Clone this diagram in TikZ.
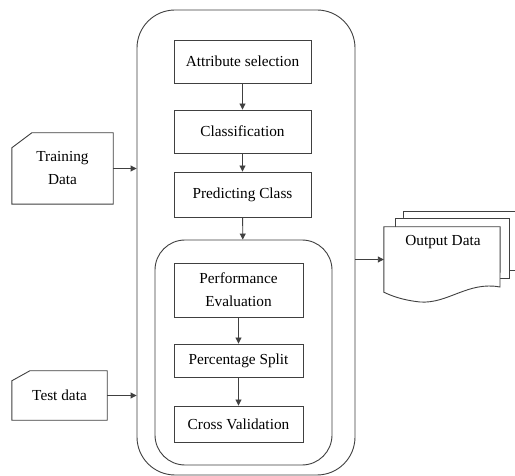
\documentclass[tikz,border=0pt]{standalone}
\usepackage{fontspec}
\setmainfont{Liberation Serif}
\usetikzlibrary{arrows.meta}
\begin{document}
\begin{tikzpicture}[x=1pt,y=-1pt,
  ln/.style={draw=black!75,line width=0.9pt},
  procbox/.style={ln,rectangle,inner sep=1pt,align=center,font=\fontsize{15.3}{23}\selectfont},
  txt/.style={inner sep=0pt,align=center,font=\fontsize{15.3}{23}\selectfont},
  arr/.style={ln,-{Triangle[length=6pt,width=6pt]}},
  frame/.style={ln,rectangle}
]
\clip (0,0) rectangle (515,476);
\fill[white] (0,0) rectangle (515,476);
% outer and inner frames
\node[frame,rounded corners=38pt,minimum width=218,minimum height=465] (outer) at (246,242.5) {};
\node[frame,rounded corners=30pt,minimum width=177,minimum height=225] (inner) at (243.5,352.5) {};
% process boxes
\node[procbox,minimum width=137,minimum height=43] (attr) at (242.5,61.5) {Attribute selection};
\node[procbox,minimum width=137,minimum height=43] (class) at (242.5,131.5) {Classification};
\node[procbox,minimum width=137,minimum height=45] (pred) at (242.5,194.5) {Predicting Class};
\node[procbox,minimum width=129,minimum height=54] (perf) at (238.5,290) {Performance\\Evaluation};
\node[procbox,minimum width=129,minimum height=33] (split) at (238.5,360.5) {Percentage Split};
\node[procbox,minimum width=129,minimum height=36] (cross) at (238.5,424) {Cross Validation};
% input cards
\node[txt,minimum width=101,minimum height=71] (train) at (62.5,168.5) {Training\\Data};
\draw[ln] (train.south west) -- ([yshift=-15pt]train.north west) -- ([xshift=20pt]train.north west) -- (train.north east) -- (train.south east) -- cycle;
\node[txt,minimum width=95,minimum height=49] (test) at (59.5,395.5) {Test data};
\draw[ln] (test.south west) -- ([yshift=-10pt]test.north west) -- ([xshift=18pt]test.north west) -- (test.north east) -- (test.south east) -- cycle;
% output multi-document
\node[inner sep=0pt,minimum width=116,minimum height=65] (out) at (442,259.5) {};
\draw[ln] (403,218) -- (403,211) -- (530,211) -- (530,270) -- (509,270);
\draw[ln,fill=white] (395,227) -- (395,218) -- (509,218) -- (509,278) -- (500,278);
\draw[ln,fill=white] (out.north west) -- (out.north east) -- (500,287)
  .. controls (468,281) and (448,304) .. (420,302)
  .. controls (402,300) and (392,296) .. (out.south west) -- cycle;
\node[txt] (outtext) at (443,242) {Output Data};
% connectors
\draw[arr] (attr) -- (class);
\draw[arr] (class) -- (pred);
\draw[arr] (pred) -- (inner);
\draw[arr] (perf) -- (split);
\draw[arr] (split) -- (cross);
\draw[arr] (train.east) -- (train.east -| outer.west);
\draw[arr] (test.east) -- (test.east -| outer.west);
\draw[arr] (outer.east |- out.west) -- (out.west);
\end{tikzpicture}
\end{document}
